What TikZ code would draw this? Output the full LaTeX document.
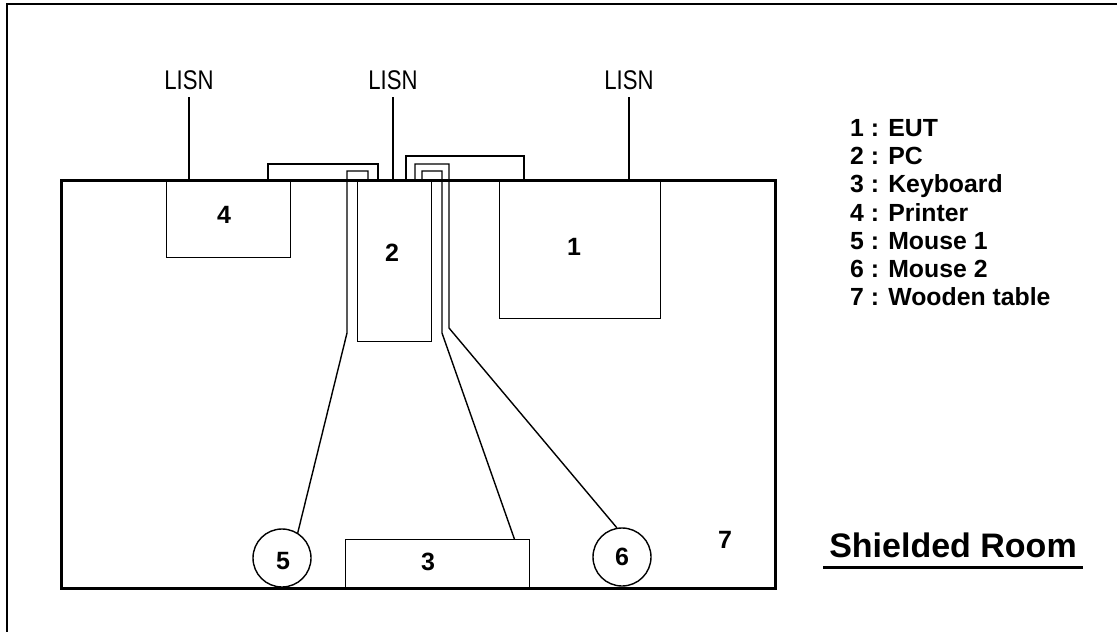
\documentclass[tikz,border=0pt]{standalone}
\usepackage{fontspec}
\setmainfont{Liberation Sans}
\usetikzlibrary{calc}
\begin{document}
\begin{tikzpicture}[x=1pt,y=-1pt,
  thinline/.style={line width=1.4pt},
  box/.style={draw,thinline,inner sep=0pt,anchor=north west},
  mouse/.style={draw,thinline,circle,inner sep=0pt,minimum size=58pt},
  digit/.style={font=\fontsize{25}{25}\selectfont\bfseries,inner sep=0pt},
  legend/.style={font=\fontsize{24.8}{28}\selectfont\bfseries,inner sep=0pt,anchor=base west},
  lisn/.style={font=\fontsize{27}{27}\selectfont,inner sep=0pt,xscale=0.82},
  cable/.style={thinline}]
\useasboundingbox (0,0) rectangle (1117,632);
% outer frame (only top and left visible)
\draw[line width=2.6pt] (7,640) -- (7,4) -- (1125,4);
% table
\node[box,line width=3pt,minimum width=714pt,minimum height=408pt] (table) at (60,179) {};
% equipment
\node[box,minimum width=124pt,minimum height=78pt] (printer) at (166,179) {};
\node[box,minimum width=74pt,minimum height=162pt] (pc) at (357,179) {};
\node[box,minimum width=161pt,minimum height=139pt] (eut) at (499,179) {};
\node[box,minimum width=184pt,minimum height=48pt] (kb) at (345,539) {};
\node[mouse] (m5) at (282,558) {};
\node[mouse] (m6) at (622,557) {};
% digits
\node[digit] (t4) at (224,215) {4};
\node[digit] (t2) at (392,253) {2};
\node[digit] (t1) at (574,247) {1};
\node[digit] (t3) at (428,562) {3};
\node[digit] (t5) at (283,561) {5};
\node[digit] (t6) at (622,557) {6};
\node[digit] (t7) at (725,540) {7};
% LISN
\node[lisn] (lisnA) at (189,80) {LISN};
\node[lisn] (lisnB) at (393,80) {LISN};
\node[lisn] (lisnC) at (629,80) {LISN};
\draw[cable] (lisnA.south |- 0,97) -- (lisnA.south |- table.north);
\draw[cable] (lisnB.south |- 0,97) -- (lisnB.south |- table.north);
\draw[cable] (lisnC.south |- 0,97) -- (lisnC.south |- table.north);
% cables
\draw[cable] (268,179) -- (268,164) -- (378,164) -- (378,179);
\draw[cable] (406,179) -- (406,156) -- (524,156) -- (524,179);
\draw[cable] (368,179) -- (368,171) -- (347,171) -- (347,333) -- (m5.58);
\draw[cable] (422,179) -- (422,171) -- (442,171) -- (442,333) -- ([xshift=-16pt]kb.north east);
\draw[cable] (415,179) -- (415,164) -- (449,164) -- (449,328) -- (m6.100);
% legend
\node[legend] (l1) at (850,136.5) {1 : EUT};
\node[legend] (l2) at (850,164.7) {2 : PC};
\node[legend] (l3) at (850,192.9) {3 : Keyboard};
\node[legend] (l4) at (850,221.1) {4 : Printer};
\node[legend] (l5) at (850,249.3) {5 : Mouse 1};
\node[legend] (l6) at (850,277.5) {6 : Mouse 2};
\node[legend] (l7) at (850,305.7) {7 : Wooden table};
% title
\node[font=\fontsize{34}{34}\selectfont\bfseries,inner sep=0pt] (title) at (953,545) {Shielded Room};
\draw[line width=3pt] (823,567) -- (1083,567);
\end{tikzpicture}
\end{document}
